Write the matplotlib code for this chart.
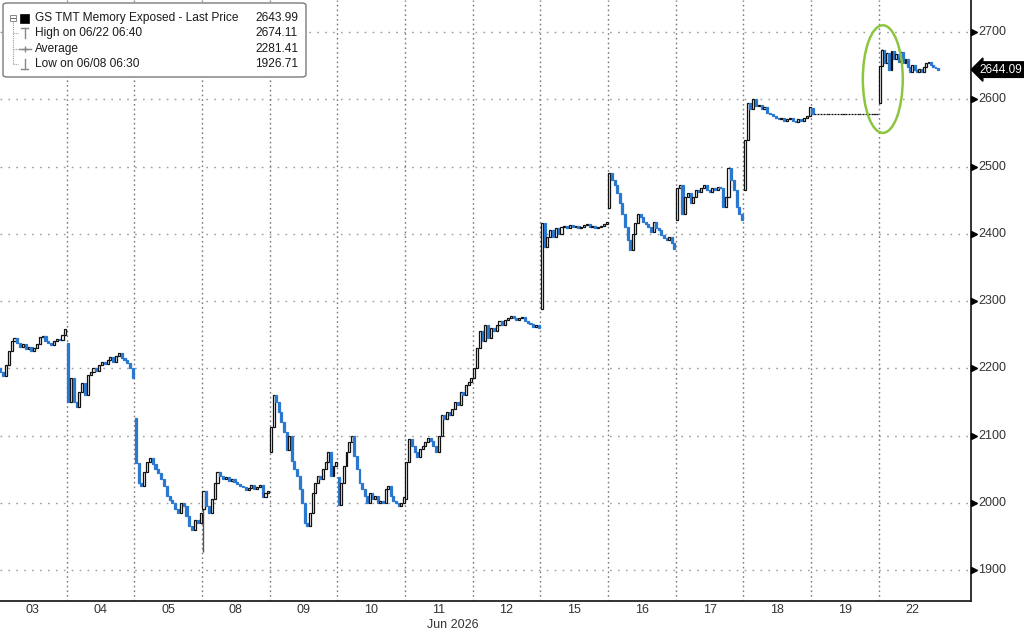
import matplotlib
matplotlib.use("Agg")
import matplotlib.pyplot as plt
import matplotlib.transforms as mtransforms
from matplotlib.patches import Ellipse, FancyBboxPatch, Rectangle
from matplotlib.lines import Line2D

# ---------------- data ----------------
day_labels = ['03', '04', '05', '08', '09', '10', '11', '12', '15', '16', '17', '18', '19', '22']
month_label = 'Jun 2026'

# opening price of the first bar of each day
day_open = [2200, 2237, 2126, 1990, 2075, 2038, 2005, 2185, 2288, 2438, 2420, 2465, 2587, 2594]

# intraday closes per day
d03 = [2195, 2188, 2205, 2225, 2240, 2245, 2238, 2232, 2236, 2228, 2232, 2226, 2230, 2236, 2246, 2248,
       2240, 2238, 2235, 2240, 2244, 2242, 2250, 2258]
d04 = [2150, 2185, 2150, 2142, 2165, 2178, 2160, 2190, 2195, 2200, 2196, 2205, 2210, 2206, 2212, 2216,
       2210, 2218, 2222, 2215, 2212, 2208, 2200, 2186]
d05 = [2059, 2030, 2025, 2045, 2060, 2066, 2058, 2050, 2044, 2035, 2025, 2010, 2004, 2000, 1990, 1985,
       2000, 1995, 1980, 1965, 1960, 1975, 1970, 1985]
d08 = [2018, 1995, 1985, 2005, 2030, 2046, 2040, 2035, 2038, 2032, 2036, 2031, 2028, 2025, 2023, 2019,
       2022, 2026, 2020, 2024, 2026, 2009, 2015, 2018]
d09 = [2112, 2160, 2150, 2135, 2120, 2105, 2078, 2100, 2062, 2050, 2040, 2020, 2000, 1970, 1965, 1985,
       2015, 2030, 2040, 2035, 2050, 2060, 2075, 2040, 2055, 2060]
d10 = [1996, 2030, 2055, 2075, 2090, 2100, 2070, 2050, 2030, 2020, 2010, 2000, 2015, 2005, 2010, 2000,
       2002, 2000, 2020, 2025, 2010, 2002, 2000, 1995, 2000, 2008]
d11 = [2060, 2095, 2085, 2075, 2068, 2080, 2085, 2090, 2096, 2092, 2085, 2075, 2100, 2130, 2125, 2135,
       2130, 2140, 2150, 2145, 2165, 2160, 2175, 2180, 2186]
d12 = [2200, 2230, 2255, 2240, 2265, 2245, 2260, 2255, 2265, 2270, 2265, 2272, 2275, 2278, 2275, 2272,
       2274, 2276, 2270, 2268, 2266, 2262, 2265, 2260]
d15 = [2416, 2380, 2395, 2405, 2395, 2408, 2400, 2410, 2412, 2408, 2413, 2410, 2412, 2408, 2410, 2413,
       2415, 2410, 2412, 2408, 2410, 2412, 2415, 2418]
d16 = [2490, 2480, 2472, 2460, 2446, 2430, 2410, 2390, 2376, 2400, 2416, 2430, 2425, 2418, 2415, 2410,
       2403, 2418, 2408, 2405, 2398, 2393, 2390, 2395, 2386, 2378]
d17 = [2468, 2472, 2430, 2455, 2460, 2446, 2455, 2465, 2462, 2468, 2472, 2465, 2462, 2468, 2465, 2470,
       2468, 2440, 2455, 2498, 2480, 2465, 2440, 2430, 2420]
d18 = [2540, 2595, 2585, 2600, 2590, 2592, 2585, 2588, 2580, 2578, 2575, 2572, 2570, 2572, 2568, 2570,
       2572, 2568, 2566, 2570, 2568, 2572, 2575, 2588]
d19 = [2578, 2578, 2578, 2578, 2578, 2578, 2578, 2578, 2578, 2578, 2578, 2578, 2578, 2578, 2578, 2578,
       2578, 2578, 2578, 2578, 2578, 2578, 2578, 2578]
d22 = [2650, 2673, 2654, 2669, 2643, 2672, 2660, 2668, 2655, 2670, 2654, 2660, 2648, 2640, 2651, 2643,
       2640, 2645, 2640, 2648, 2654, 2655, 2651, 2648, 2646, 2643.99]
closes_by_day = [d03, d04, d05, d08, d09, d10, d11, d12, d15, d16, d17, d18, d19, d22]

# explicit wicks (day index, bar index, low, high)
wick_day = [3, 13]
wick_bar = [0, 1]
wick_low = [1926.71, 2650]
wick_high = [2018, 2674.11]

legend_names = ['GS TMT Memory Exposed - Last Price', 'High on 06/22 06:40', 'Average', 'Low on 06/08 06:30']
legend_values = ['2643.99', '2674.11', '2281.41', '1926.71']
last_label = '2644.09'
last_value = 2644.09
y_ticks = [1900, 2000, 2100, 2200, 2300, 2400, 2500, 2600, 2700]

# ---------------- figure ----------------
W, H = 1024, 632
fig = plt.figure(figsize=(W / 100, H / 100), dpi=100)
fig.patch.set_facecolor('white')

AX_RIGHT = 970.5
AX_BOTTOM = 601
ax = fig.add_axes([0, (H - AX_BOTTOM) / H, AX_RIGHT / W, AX_BOTTOM / H])
ax.set_facecolor('white')

def fx(px):
    return px / W

def fy(py):
    return 1 - py / H

FONT = 'Liberation Sans'
UP_FACE, UP_EDGE = 'white', '#111111'
DOWN_COL = '#2b78d0'

# day spans (last day partially traded)
span = [1.0] * (len(day_labels) - 1) + [0.89]

xs, bottoms, heights, faces, edges = [], [], [], [], []
bar_x = {}
slot_w = []
for d, closes in enumerate(closes_by_day):
    n = len(closes)
    sw = span[d] / n
    prev = day_open[d]
    for j, c in enumerate(closes):
        x = d + (j + 0.5) * sw
        bar_x[(d, j)] = (x, sw)
        xs.append(x)
        bottoms.append(min(prev, c))
        heights.append(abs(c - prev))
        if c >= prev:
            faces.append(UP_FACE)
            edges.append(UP_EDGE)
        else:
            faces.append(DOWN_COL)
            edges.append(DOWN_COL)
        slot_w.append(sw)
        prev = c

# grid
for yv in y_ticks:
    ax.axhline(yv, color='#9c9c9c', lw=1.0, ls=(0, (1.2, 4.5)), zorder=1)
for b in range(1, len(day_labels)):
    ax.axvline(b, color='#7a7a7a', lw=1.0, ls=(0, (1.2, 2.2)), zorder=1)

# wicks
for d, j, lo, hi in zip(wick_day, wick_bar, wick_low, wick_high):
    x, sw = bar_x[(d, j)]
    ax.plot([x, x], [lo, hi], color='#555555', lw=1.0, zorder=2, solid_capstyle='butt')

ax.bar(xs, heights, bottom=bottoms, width=[0.75 * s for s in slot_w],
       color=faces, edgecolor=edges, linewidth=0.9, zorder=3)

ax.set_xlim(0.0143, 14.356)
ax.set_ylim(1853.9, 2747.6)

for s in ['left', 'top']:
    ax.spines[s].set_visible(False)
for s in ['right', 'bottom']:
    ax.spines[s].set_color('#222222')
    ax.spines[s].set_linewidth(1.3)
ax.set_xticks([])
ax.set_yticks([])

# y tick markers and labels
tr = mtransforms.blended_transform_factory(ax.transAxes, ax.transData)
for yv in y_ticks:
    ax.plot([1.0 + 3.5 / AX_RIGHT], [yv], marker='>', ms=5, color='black', mec='black',
            transform=tr, clip_on=False, zorder=5)
    ax.text(1.0 + 8 / AX_RIGHT, yv, str(yv), transform=tr, ha='left', va='center',
            fontsize=9, family=FONT, color='#333333')

# x labels
trx = mtransforms.blended_transform_factory(ax.transData, fig.transFigure)
for i, lab in enumerate(day_labels):
    ax.text(i + 0.5, fy(610), lab, transform=trx, ha='center', va='center',
            fontsize=9, family=FONT, color='#333333')
fig.text(fx(453), fy(625), month_label, ha='center', va='center', fontsize=9, family=FONT, color='#333333')

# last price label
ax.annotate(last_label, xy=(1.0, last_value), xycoords=tr,
            xytext=(1.0 + 9 / AX_RIGHT, last_value), textcoords=tr,
            ha='left', va='center', fontsize=8.5, family=FONT, color='white',
            bbox=dict(boxstyle='larrow,pad=0.15', fc='black', ec='black'),
            annotation_clip=False, zorder=6)

# green highlight ellipse
ax.add_patch(Ellipse((13.06, 2630), width=0.59, height=160, fill=False,
                     edgecolor='#8cc63e', lw=1.8, zorder=6))

# ---------------- legend ----------------
lx0, ly0, lx1, ly1 = 3, 3, 306, 77
fig.patches.append(FancyBboxPatch((fx(lx0), fy(ly1)), fx(lx1 - lx0), (ly1 - ly0) / H,
                                  boxstyle='round,pad=0,rounding_size=0.004',
                                  transform=fig.transFigure, fc='white', ec='#7a7a7a', lw=1.0,
                                  zorder=10))
rows_y = [18, 33, 49, 64]
# tree lines
fig.add_artist(Line2D([fx(13), fx(13)], [fy(22), fy(64)], color='#999999', lw=0.8, ls=(0, (1, 1)),
                      transform=fig.transFigure, zorder=11))
for ry in rows_y[1:]:
    fig.add_artist(Line2D([fx(13), fx(18)], [fy(ry), fy(ry)], color='#999999', lw=0.8, ls=(0, (1, 1)),
                          transform=fig.transFigure, zorder=11))
fig.patches.append(Rectangle((fx(10), fy(21)), fx(6), 6 / H, transform=fig.transFigure,
                             fc='white', ec='#888888', lw=0.7, zorder=11))
fig.add_artist(Line2D([fx(11), fx(15)], [fy(18), fy(18)], color='#666666', lw=0.7,
                      transform=fig.transFigure, zorder=12))
fig.patches.append(Rectangle((fx(20), fy(23)), fx(9), 9 / H, transform=fig.transFigure,
                             fc='black', ec='black', lw=0.5, zorder=11))
# high icon
fig.add_artist(Line2D([fx(21), fx(28)], [fy(28), fy(28)], color='#888888', lw=1.0,
                      transform=fig.transFigure, zorder=11))
fig.add_artist(Line2D([fx(24.5), fx(24.5)], [fy(28), fy(38)], color='#888888', lw=1.0,
                      transform=fig.transFigure, zorder=11))
# average icon
fig.add_artist(Line2D([fx(19), fx(31)], [fy(49), fy(49)], color='#888888', lw=1.0,
                      transform=fig.transFigure, zorder=11))
fig.add_artist(Line2D([fx(25)], [fy(49)], color='#888888', marker='+', ms=5, mew=1.0,
                      transform=fig.transFigure, zorder=11))
# low icon
fig.add_artist(Line2D([fx(21), fx(28)], [fy(69), fy(69)], color='#888888', lw=1.0,
                      transform=fig.transFigure, zorder=11))
fig.add_artist(Line2D([fx(24.5), fx(24.5)], [fy(59), fy(69)], color='#888888', lw=1.0,
                      transform=fig.transFigure, zorder=11))
for ry, name, val in zip(rows_y, legend_names, legend_values):
    fig.text(fx(35), fy(ry), name, ha='left', va='center', fontsize=8.6, family=FONT,
             color='#1a1a1a', zorder=12)
    fig.text(fx(298), fy(ry), val, ha='right', va='center', fontsize=8.6, family=FONT,
             color='#1a1a1a', zorder=12)

fig.savefig('out.png', dpi=100, facecolor='white')
